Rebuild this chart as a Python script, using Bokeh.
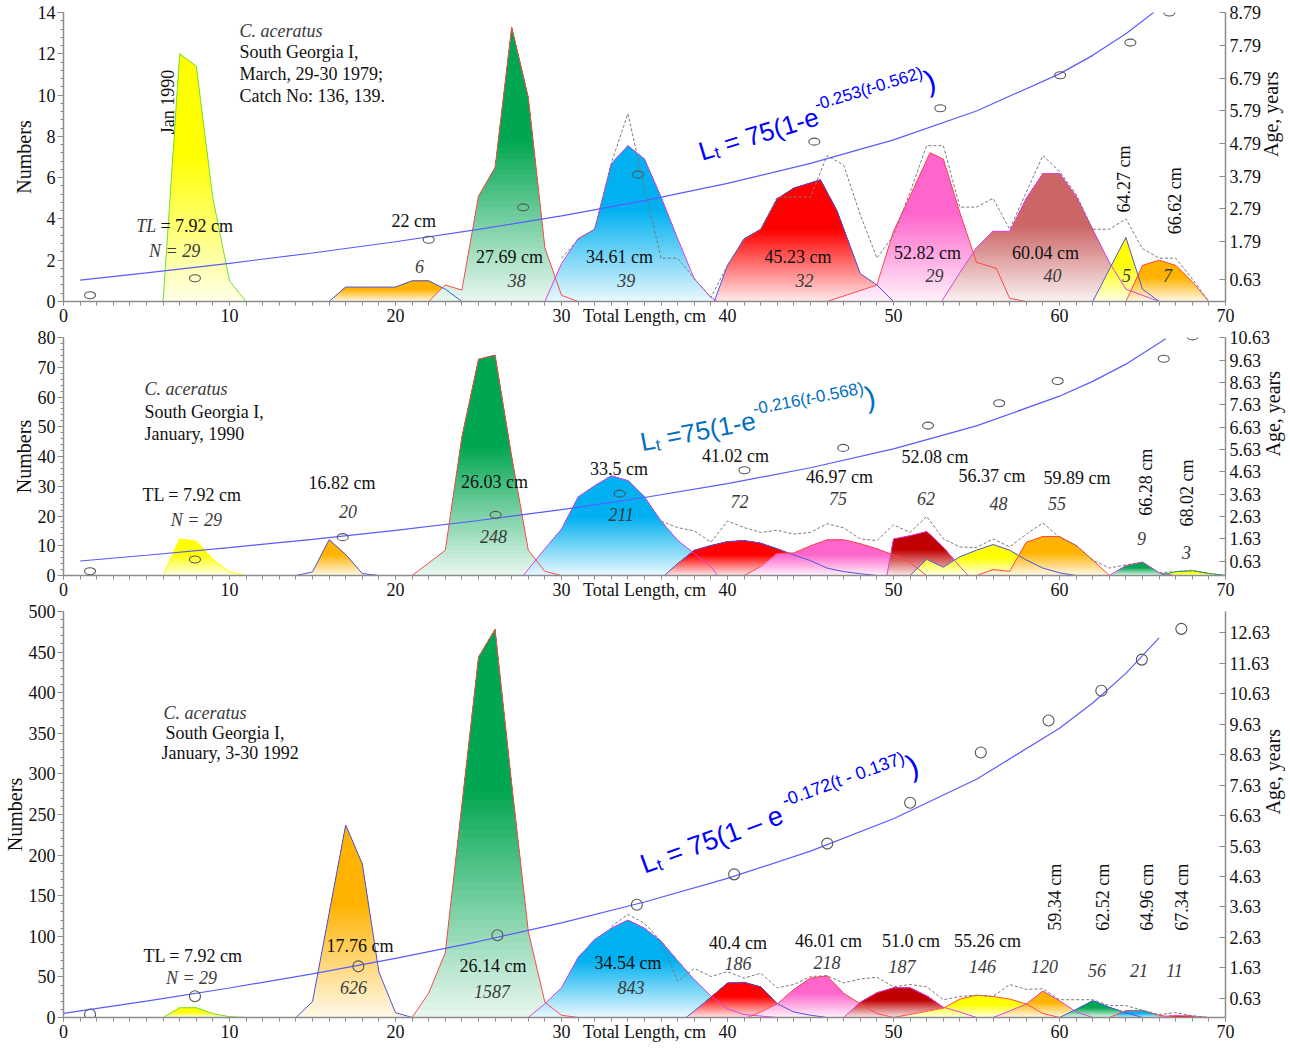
import math
from bokeh.plotting import figure
from bokeh.models import (Range1d, LinearAxis, FixedTicker, SingleIntervalTicker,
                          Label, ColumnDataSource)
from bokeh.layouts import column
from bokeh.embed import file_html
from bokeh.resources import INLINE
from bokeh.core.properties import value

# ============================ DATA ============================
X_MAJOR_TICKS = [0, 10, 20, 30, 40, 50, 60, 70]
X_TITLE = "Total Length, cm"
X_TITLE_AT = 35

# ---------- Panel 1: South Georgia I, March 29-30 1979 ----------
P1_COHORT_LEN = [
    [6, 7, 8, 9, 10, 11],
    [16, 17, 18, 19, 20, 21, 22, 23, 24],
    [22, 23, 24, 25, 26, 27, 28, 29, 30, 31],
    [29, 30, 31, 32, 33, 34, 35, 36, 37, 38, 39, 39.4],
    [39.2, 40, 41, 42, 43, 44, 45.6, 46.6, 48, 49, 50],
    [46, 49, 50, 51, 52.2, 53, 54, 55, 56.2, 57, 58],
    [52.9, 54, 55, 56, 57, 58, 59, 60, 61, 62, 63, 64, 65, 66],
    [62, 64, 65, 66],
    [64, 65, 66, 67, 68, 69],
]
P1_COHORT_NUM = [
    [0, 12.0, 11.4, 5.0, 1.0, 0],
    [0, 0.7, 0.7, 0.7, 0.7, 1.0, 1.0, 0.6, 0],
    [0, 0.8, 0.55, 5.1, 6.5, 13.3, 9.9, 2.6, 0.3, 0],
    [0, 1.84, 3.04, 3.5, 6.67, 7.55, 6.9, 5.06, 3.04, 1.1, 0.2, 0],
    [0, 1.75, 3.04, 3.5, 4.98, 5.5, 5.9, 4.4, 1.35, 0.8, 0],
    [0, 0.8, 3.4, 5.1, 7.2, 6.9, 4.3, 1.9, 1.6, 0.15, 0],
    [0, 1.4, 2.6, 3.4, 3.4, 5.0, 6.2, 6.2, 5.1, 3.5, 1.9, 0.6, 0.3, 0],
    [0, 3.1, 0.6, 0],
    [0, 1.75, 2.0, 1.75, 0.95, 0],
]
P1_TOTAL_LEN = [30, 31, 32, 33, 34, 35, 36, 37, 38, 39, 40, 41, 42, 43, 44, 45, 46, 47, 48,
                49, 50, 51, 52, 53, 54, 55, 56, 57, 58, 59, 60, 61, 62, 63, 64, 65, 66, 67, 68, 69]
P1_TOTAL_NUM = [2.1, 3.0, 3.5, 6.7, 9.1, 5.5, 2.1, 2.1, 1.1, 0.2, 1.75, 3.0, 3.5, 5.06, 5.06, 5.06,
                7.07, 6.6, 4.2, 2.1, 3.2, 5.3, 7.55, 7.55, 4.57, 4.57, 5.0, 3.5, 5.3, 7.07, 6.3,
                5.2, 3.5, 3.5, 4.0, 2.56, 2.1, 2.1, 1.1, 0]
P1_AGE_LEN = [1.6, 7.92, 22.0, 27.69, 34.61, 45.23, 52.82, 60.04, 64.27, 66.62]
P1_AGE = [0.15, 0.67, 1.85, 2.84, 3.84, 4.85, 5.87, 6.88, 7.88, 8.8]
P1_CURVE_LEN = [1, 5, 10, 15, 20, 25, 30, 35, 40, 45, 50, 55, 60, 62, 64, 65.7]
P1_CURVE_AGE = [0.615, 0.835, 1.128, 1.444, 1.788, 2.165, 2.581, 3.047, 3.574, 4.184,
                4.904, 5.786, 6.923, 7.489, 8.149, 8.813]
P1_AGE_TICKS = [0.63, 1.79, 2.79, 3.79, 4.79, 5.79, 6.79, 7.79, 8.79]

# ---------- Panel 2: South Georgia I, January 1990 ----------
P2_COHORT_LEN = [
    [6, 7, 8, 9, 10, 11],
    [14, 15, 16, 17, 18, 19],
    [21, 22, 23, 24, 25, 26, 27, 28, 29, 30],
    [27.7, 29, 30, 31, 32, 33, 34, 35, 36, 37, 38, 39, 39.4],
    [36.2, 37, 38, 39, 40, 41, 42, 43, 44, 45, 46, 47, 48, 49],
    [41, 42, 43, 44, 45, 46, 47, 48, 49, 50, 51, 52],
    [49.6, 50, 51, 52, 53, 54, 54.5],
    [51, 52, 53, 54, 55, 56, 57, 58, 59, 60, 61],
    [55, 56, 57, 58, 59, 60, 61, 62, 63],
    [63, 64, 65, 66, 66.9],
    [66, 67, 68, 69, 70],
]
P2_COHORT_NUM = [
    [0, 12.3, 11.5, 5.4, 1.2, 0],
    [0, 1.2, 12.0, 7.1, 0.65, 0],
    [0, 4.2, 8.5, 46.6, 72.7, 74.1, 40, 8.5, 1.4, 0],
    [0, 9, 15.6, 26.4, 30.2, 33.5, 31.9, 26.4, 18.3, 11.8, 7.4, 3.0, 0],
    [0, 4, 8.5, 10.1, 11.4, 11.75, 10.9, 9.0, 6.9, 5.0, 2.5, 1.3, 0.6, 0],
    [0, 3, 7.4, 7.6, 10, 12, 12, 10.7, 9, 6.9, 4.3, 0],
    [0, 12.3, 13.4, 14.8, 9.5, 3, 0],
    [0, 5.4, 2.8, 6.3, 8.5, 10.4, 8.5, 5.2, 2.5, 0.9, 0],
    [0, 2, 1.4, 11.2, 13.1, 13.1, 10.1, 5.2, 0],
    [0, 3.3, 4.5, 0.9, 0],
    [0, 1.3, 1.6, 0.7, 0],
]
P2_TOTAL_LEN = [36, 37, 38, 39, 40, 41, 42, 43, 44, 45, 46, 47, 48, 49, 50, 51, 52, 53, 54,
                55, 56, 57, 58, 59, 60, 61, 62, 63, 64, 65, 66, 67, 68, 69, 70]
P2_TOTAL_NUM = [18.3, 16.1, 15.0, 11.2, 18.3, 16.1, 14.5, 15.2, 13.9, 14.5, 17.4, 16.0, 12.3,
                11.75, 17.0, 14.5, 19.9, 12.3, 9.6, 9.4, 12.3, 9.6, 13.9, 17.7, 12.8, 10.1, 5.2,
                2.5, 3.6, 4.5, 0.9, 1.3, 1.7, 0.7, 0]
P2_AGE_LEN = [1.6, 7.92, 16.82, 26.03, 33.5, 41.02, 46.97, 52.08, 56.37, 59.89, 66.28, 68.02]
P2_AGE = [0.17, 0.7, 1.7, 2.7, 3.65, 4.7, 5.7, 6.7, 7.7, 8.7, 9.7, 10.7]
P2_CURVE_LEN = [1, 5, 10, 15, 20, 25, 30, 35, 40, 45, 50, 55, 60, 62, 64, 66.4]
P2_CURVE_AGE = [0.630, 0.887, 1.231, 1.601, 2.004, 2.445, 2.933, 3.478, 4.096, 4.810,
                5.654, 6.687, 8.019, 8.682, 9.455, 10.595]
P2_AGE_TICKS = [0.63, 1.63, 2.63, 3.63, 4.63, 5.63, 6.63, 7.63, 8.63, 9.63, 10.63]

# ---------- Panel 3: South Georgia I, January 3-30 1992 ----------
P3_COHORT_LEN = [
    [6, 7, 8, 9, 10, 11],
    [14, 15, 16, 17, 18, 19, 20, 21],
    [21, 22, 23, 24, 25, 26, 27, 28, 29, 30, 31],
    [28, 29, 30, 31, 32, 33, 34, 35, 36, 37, 38, 39, 40, 41, 43],
    [37.5, 38, 39, 40, 41, 42, 43, 44, 45, 46],
    [41.2, 42, 43, 44, 45, 46, 47, 48, 49, 50],
    [47, 48, 49, 50, 51, 52, 53, 54, 55],
    [50, 53, 54, 55, 56, 57, 58, 59, 60],
    [56, 57, 58, 59, 60, 61, 62],
    [60, 61, 62, 63, 64, 65],
    [63, 64, 65, 66, 67],
    [65.8, 67, 68, 69],
]
P3_COHORT_NUM = [
    [0, 12, 12, 4.8, 1, 0],
    [0, 19.5, 128, 237, 189, 56, 6, 0],
    [0, 30, 80, 262, 444, 478, 288, 106, 18.7, 2.8, 0],
    [0, 17, 36.6, 74, 96, 110, 120, 110, 94, 70, 46.5, 26.6, 10.7, 3.6, 0],
    [0, 8, 25, 42.6, 43.4, 37.8, 17, 6.8, 2.8, 0],
    [0, 6.8, 16.7, 34.6, 48.5, 51.3, 29.6, 17, 5, 0],
    [0, 18.7, 30.6, 36.6, 36.6, 26.7, 12.7, 6.8, 0],
    [0, 11.5, 22.7, 27.4, 25.9, 22.7, 16.7, 5, 0],
    [0, 8, 16.7, 32.6, 20.7, 6.8, 0],
    [0, 10, 20.7, 12.7, 6, 0],
    [0, 8.5, 8.8, 2.8, 0],
    [0, 2.8, 2, 0],
]
P3_TOTAL_LEN = [33, 34, 35, 36, 37, 38, 39, 40, 41, 42, 43, 44, 45, 46, 47, 48, 49, 50, 51, 52,
                53, 54, 55, 56, 57, 58, 59, 60, 61, 62, 63, 64, 65, 66, 67, 68, 69]
P3_TOTAL_NUM = [112, 127, 116, 94, 44.5, 60.5, 50.5, 56.5, 48.5, 54.5, 36.6, 40.6, 50.5, 51.3,
                42.6, 47.3, 49.7, 37.8, 40.6, 37.8, 21.9, 25.9, 27.4, 25.9, 40.6, 34.6, 35.4,
                21.9, 21.9, 21.9, 14.7, 14.7, 8.8, 3.6, 6, 2, 0]
P3_AGE_LEN = [1.6, 7.92, 17.76, 26.14, 34.54, 40.4, 46.01, 51.0, 55.26, 59.34, 62.52, 64.96, 67.34]
P3_AGE = [0.1, 0.7, 1.68, 2.7, 3.7, 4.7, 5.71, 7.05, 8.7, 9.75, 10.73, 11.75, 12.76]
P3_CURVE_LEN = [0, 5, 10, 15, 20, 25, 30, 35, 40, 45, 50, 55, 60, 62, 64, 66]
P3_CURVE_AGE = [0.137, 0.538, 0.969, 1.434, 1.940, 2.494, 3.107, 3.792, 4.568, 5.464,
                6.524, 7.822, 9.494, 10.326, 11.297, 12.464]
P3_AGE_TICKS = [0.63, 1.63, 2.63, 3.63, 4.63, 5.63, 6.63, 7.63, 8.63, 9.63, 10.63, 11.63, 12.63]

# ============================ STYLE ============================
SERIF = "Liberation Serif"
SANS = "Liberation Sans"
YEL, ORG, GRN, BLU = "#FFFF00", "#FFB300", "#00A651", "#00B0F0"
RED, PNK, BRN, DRD = "#FF0000", "#FF66CC", "#CC6666", "#C00000"
E_GRN, E_BLU, E_RED, E_MAG = "#70DD3A", "#4A55E0", "#FF4A4A", "#E040E0"

P1_FILL = [YEL, ORG, GRN, BLU, RED, PNK, BRN, YEL, ORG]
P1_EDGE = [E_GRN, E_BLU, E_RED, E_MAG, E_BLU, E_RED, E_MAG, E_BLU, E_RED]
P2_FILL = [YEL, ORG, GRN, BLU, RED, PNK, DRD, YEL, ORG, GRN, YEL]
P2_EDGE = [YEL, E_BLU, E_RED, E_MAG, E_BLU, E_RED, E_MAG, E_BLU, E_RED, E_MAG, GRN]
P3_FILL = [YEL, ORG, GRN, BLU, RED, PNK, DRD, YEL, ORG, GRN, BLU, RED]
P3_EDGE = [E_GRN, E_BLU, E_RED, E_MAG, E_BLU, E_RED, E_MAG, E_RED, E_MAG, E_BLU, E_RED, PNK]

# text annotations: (text, x, y, style, align, angle in degrees)
P1_TEXT = [
    ("C. aceratus", 10.6, 13.1, "italic", "left", 0),
    ("South Georgia I,", 10.6, 12.07, "normal", "left", 0),
    ("March, 29-30 1979;", 10.6, 11.0, "normal", "left", 0),
    ("Catch No: 136, 139.", 10.6, 9.95, "normal", "left", 0),
    ("Jan 1990", 6.27, 9.66, "normal", "center", 90),
    ("TL", 4.38, 3.67, "italic", "left", 0),
    ("= 7.92 cm", 5.84, 3.67, "normal", "left", 0),
    ("N = 29", 6.69, 2.46, "italic", "center", 0),
    ("22 cm", 21.1, 3.91, "normal", "center", 0),
    ("6", 21.45, 1.69, "italic", "center", 0),
    ("27.69 cm", 26.87, 2.17, "normal", "center", 0),
    ("38", 27.3, 1.01, "italic", "center", 0),
    ("34.61 cm", 33.5, 2.17, "normal", "center", 0),
    ("39", 33.9, 1.01, "italic", "center", 0),
    ("45.23 cm", 44.25, 2.17, "normal", "center", 0),
    ("32", 44.64, 1.01, "italic", "center", 0),
    ("52.82 cm", 52.05, 2.37, "normal", "center", 0),
    ("29", 52.47, 1.26, "italic", "center", 0),
    ("60.04 cm", 59.16, 2.37, "normal", "center", 0),
    ("40", 59.58, 1.26, "italic", "center", 0),
    ("64.27 cm", 63.86, 5.94, "normal", "center", 90),
    ("66.62 cm", 66.93, 4.88, "normal", "center", 90),
    ("5", 64.04, 1.26, "italic", "center", 0),
    ("7", 66.5, 1.26, "italic", "center", 0),
]
P2_TEXT = [
    ("C. aceratus", 4.88, 62.7, "italic", "left", 0),
    ("South Georgia I,", 4.88, 54.9, "normal", "left", 0),
    ("January, 1990", 4.88, 47.7, "normal", "left", 0),
    ("TL = 7.92 cm", 7.74, 27.1, "normal", "center", 0),
    ("N = 29", 8.0, 18.6, "italic", "center", 0),
    ("16.82 cm", 16.78, 31.0, "normal", "center", 0),
    ("20", 17.14, 21.5, "italic", "center", 0),
    ("26.03 cm", 25.96, 31.35, "normal", "center", 0),
    ("248", 25.9, 13.06, "italic", "center", 0),
    ("33.5 cm", 33.46, 35.9, "normal", "center", 0),
    ("211", 33.6, 20.6, "italic", "center", 0),
    ("41.02 cm", 40.48, 40.2, "normal", "center", 0),
    ("72", 40.72, 24.8, "italic", "center", 0),
    ("46.97 cm", 46.75, 33.0, "normal", "center", 0),
    ("75", 46.66, 25.8, "italic", "center", 0),
    ("52.08 cm", 52.5, 39.8, "normal", "center", 0),
    ("62", 51.96, 25.8, "italic", "center", 0),
    ("56.37 cm", 55.93, 33.3, "normal", "center", 0),
    ("48", 56.33, 24.2, "italic", "center", 0),
    ("59.89 cm", 61.05, 32.65, "normal", "center", 0),
    ("55", 59.85, 24.2, "italic", "center", 0),
    ("66.28 cm", 65.24, 31.35, "normal", "center", 90),
    ("9", 64.94, 12.4, "italic", "center", 0),
    ("68.02 cm", 67.71, 27.75, "normal", "center", 90),
    ("3", 67.65, 7.84, "italic", "center", 0),
]
P3_TEXT = [
    ("C. aceratus", 6.02, 374.7, "italic", "left", 0),
    ("South Georgia I,", 6.14, 350.8, "normal", "left", 0),
    ("January, 3-30 1992", 5.9, 325.8, "normal", "left", 0),
    ("TL = 7.92 cm", 7.8, 75.2, "normal", "center", 0),
    ("N = 29", 7.71, 48.9, "italic", "center", 0),
    ("17.76 cm", 17.86, 88.3, "normal", "center", 0),
    ("626", 17.47, 37.0, "italic", "center", 0),
    ("26.14 cm", 25.87, 63.2, "normal", "center", 0),
    ("1587", 25.81, 32.2, "italic", "center", 0),
    ("34.54 cm", 34.0, 66.8, "normal", "center", 0),
    ("843", 34.19, 37.0, "italic", "center", 0),
    ("40.4 cm", 40.63, 91.9, "normal", "center", 0),
    ("186", 40.63, 66.8, "italic", "center", 0),
    ("46.01 cm", 46.08, 94.3, "normal", "center", 0),
    ("218", 46.0, 68.0, "italic", "center", 0),
    ("51.0 cm", 51.05, 94.3, "normal", "center", 0),
    ("187", 50.51, 63.2, "italic", "center", 0),
    ("55.26 cm", 55.66, 94.3, "normal", "center", 0),
    ("146", 55.36, 63.2, "italic", "center", 0),
    ("120", 59.1, 63.2, "italic", "center", 0),
    ("56", 62.26, 57.3, "italic", "center", 0),
    ("21", 64.79, 57.3, "italic", "center", 0),
    ("11", 66.93, 57.3, "italic", "center", 0),
    ("59.34 cm", 59.7, 148, "normal", "center", 90),
    ("62.52 cm", 62.65, 148, "normal", "center", 90),
    ("64.96 cm", 65.3, 148, "normal", "center", 90),
    ("67.34 cm", 67.35, 148, "normal", "center", 90),
]

# formula pieces: (text, size px, baseline shift px, style)
P1_FORMULA = [("L", 26, 0, "normal"), ("t", 17, -6, "normal"), (" = 75(1-e", 26, 0, "normal"),
              ("-0.253(", 17, 11, "normal"), ("t", 17, 11, "italic"), ("-0.562)", 17, 11, "normal"),
              (")", 30, 1, "normal")]
P2_FORMULA = [("L", 26, 0, "normal"), ("t", 17, -6, "normal"), (" =75(1-e", 26, 0, "normal"),
              ("-0.216(", 17, 11, "normal"), ("t", 17, 11, "italic"), ("-0.568)", 17, 11, "normal"),
              (")", 30, 1, "normal")]
P3_FORMULA = [("L", 27, 0, "normal"), ("t", 17, -6, "normal"), (" = 75(1 \u2013 e", 27, 0, "normal"),
              (" -0.172(", 18, 12, "normal"), ("t", 18, 12, "normal"), (" - 0.137)", 18, 12, "normal"),
              (")", 31, 1, "normal")]

ARIAL_W = {' ': 278, '=': 584, '(': 333, ')': 333, '-': 333, '.': 278, 't': 278,
           'L': 556, 'e': 556, '\u2013': 556}


def text_width(s, size):
    return sum(ARIAL_W.get(c, 556) for c in s) * size / 1000.0


def mix(hexc, m):
    r, g, b = int(hexc[1:3], 16), int(hexc[3:5], 16), int(hexc[5:7], 16)
    r = round(r + (255 - r) * m)
    g = round(g + (255 - g) * m)
    b = round(b + (255 - b) * m)
    return "#%02x%02x%02x" % (r, g, b)


def clip_above(poly, y0):
    out = []
    n = len(poly)
    for i in range(n):
        cx, cy = poly[i]
        px, py = poly[i - 1]
        cin, pin = cy >= y0, py >= y0
        if cin:
            if not pin:
                t = (y0 - py) / (cy - py)
                out.append((px + t * (cx - px), y0))
            out.append((cx, cy))
        elif pin:
            t = (y0 - py) / (cy - py)
            out.append((px + t * (cx - px), y0))
    return out


def gradient_layers(xs, ys, color, n=30, top=0.58, fade=0.9):
    poly = list(zip(xs, ys))
    if ys[0] != 0:
        poly.insert(0, (xs[0], 0))
    if ys[-1] != 0:
        poly.append((xs[-1], 0))
    peak = max(ys)
    lx, ly, lc = [], [], []
    for k in range(n + 1):
        part = poly if k == 0 else clip_above(poly, peak * top * k / n)
        if len(part) < 3:
            continue
        lx.append([q[0] for q in part])
        ly.append([q[1] for q in part])
        lc.append(mix(color, fade * (1 - k / n)))
    return lx, ly, lc


def style_axis(ax, tin, tout, min_in, min_out):
    ax.axis_line_color = "#8c8c8c"
    ax.axis_line_width = 1.5
    ax.major_tick_line_color = "#8c8c8c"
    ax.minor_tick_line_color = "#8c8c8c"
    ax.major_tick_in = tin
    ax.major_tick_out = tout
    ax.minor_tick_in = min_in
    ax.minor_tick_out = min_out
    ax.major_label_text_font = SERIF
    ax.major_label_text_font_size = "18px"
    ax.major_label_text_color = "#111111"
    ax.major_label_standoff = 2
    ax.axis_label_text_font = SERIF
    ax.axis_label_text_font_size = "20px"
    ax.axis_label_text_font_style = "normal"
    ax.axis_label_text_color = "#111111"
    ax.axis_label_standoff = 0


def build(frame_h, b_top, b_bottom, y_max, y_step, age_range, age_ticks, age_title_gap,
          c_len, c_num, fills, edges, t_len, t_num, a_len, a_val, cv_len, cv_age,
          ell_h, texts, formula, f_xy, f_angle, f_color):
    p = figure(frame_width=1162, frame_height=frame_h,
               x_range=Range1d(0, 70), y_range=Range1d(0, y_max),
               output_backend="svg", toolbar_location=None,
               min_border_left=59, min_border_right=68,
               min_border_top=b_top, min_border_bottom=b_bottom)
    p.outline_line_color = None
    p.xgrid.visible = False
    p.ygrid.visible = False
    p.background_fill_color = "white"
    p.border_fill_color = "white"
    p.extra_y_ranges = {"age": Range1d(*age_range)}

    # x axis: the axis title sits on the tick-label line, as in the original
    xa = p.xaxis[0]
    xa.ticker = FixedTicker(ticks=X_MAJOR_TICKS + [X_TITLE_AT], minor_ticks=list(range(0, 71)))
    style_axis(xa, 0, 4, 0, 4)
    xa.major_label_standoff = 0
    xa.major_label_overrides = {X_TITLE_AT: X_TITLE}

    ya = p.yaxis[0]
    ya.ticker = SingleIntervalTicker(interval=y_step, num_minor_ticks=5)
    style_axis(ya, 0, 6, 0, 3)
    ya.axis_label = "Numbers"

    ra = LinearAxis(y_range_name="age", ticker=FixedTicker(ticks=age_ticks, minor_ticks=[]))
    ra.major_label_overrides = {t: "%.2f" % t for t in age_ticks}
    style_axis(ra, 6, 0, 0, 0)
    ra.major_label_standoff = 4
    ra.axis_label = "Age, years"
    ra.axis_label_orientation = math.pi / 2
    ra.axis_label_standoff = age_title_gap
    p.add_layout(ra, "right")

    # gradient-filled cohort components
    allx, ally, allc = [], [], []
    for xs, ys, col in zip(c_len, c_num, fills):
        lx, ly, lc = gradient_layers(xs, ys, col)
        allx += lx
        ally += ly
        allc += lc
    p.patches(xs=allx, ys=ally, fill_color=allc, line_color=None)
    p.multi_line(xs=c_len, ys=c_num, line_color=edges, line_width=1)

    # observed total (dotted)
    p.line(t_len, t_num, line_color="#7a7a7a", line_dash="3 2", line_width=1)

    # growth curve and ages
    p.line(cv_len, cv_age, y_range_name="age", line_color="#5b5bff", line_width=1.2)
    p.ellipse(x=a_len, y=a_val, width=11, height=ell_h, width_units="screen",
              height_units="screen", fill_color=None, line_color="#555555",
              line_width=1.1, y_range_name="age")

    # text annotations
    groups = {}
    for (t, x, y, st, al, ang) in texts:
        groups.setdefault((st, al), []).append((t, x, y, math.radians(ang)))
    for (st, al), items in groups.items():
        src = ColumnDataSource(dict(text=[i[0] for i in items], x=[i[1] for i in items],
                                    y=[i[2] for i in items], angle=[i[3] for i in items]))
        p.text(x="x", y="y", text="text", angle="angle", source=src,
               text_font=value(SERIF), text_font_size="18px", text_font_style=st,
               text_align=al, text_baseline="middle",
               text_color="#3a3a3a" if st == "italic" else "#111111")

    # rotated growth formula (leading spaces are advanced, not drawn: SVG strips them)
    a = math.radians(f_angle)
    d = 0.0
    for (t, size, shift, st) in formula:
        lead = len(t) - len(t.lstrip(" "))
        d += text_width(" " * lead, size)
        body = t.lstrip(" ")
        ox = d * math.cos(a) - shift * math.sin(a)
        oy = d * math.sin(a) + shift * math.cos(a)
        p.add_layout(Label(x=f_xy[0], y=f_xy[1], x_offset=ox, y_offset=oy, angle=a, text=body,
                           text_font=SANS, text_font_size="%dpx" % size, text_font_style=st,
                           text_color=f_color, text_align="left", text_baseline="alphabetic"))
        d += text_width(body, size)
    return p


p1 = build(289, 12, 25, 14, 2, (-0.04, 8.80), P1_AGE_TICKS, 7,
           P1_COHORT_LEN, P1_COHORT_NUM, P1_FILL, P1_EDGE, P1_TOTAL_LEN, P1_TOTAL_NUM,
           P1_AGE_LEN, P1_AGE, P1_CURVE_LEN, P1_CURVE_AGE, 7, P1_TEXT,
           P1_FORMULA, (38.31, 7.24), 17, "#0000FF")
p2 = build(238, 9, 25, 80, 10, (-0.02, 10.65), P2_AGE_TICKS, 0,
           P2_COHORT_LEN, P2_COHORT_NUM, P2_FILL, P2_EDGE, P2_TOTAL_LEN, P2_TOTAL_NUM,
           P2_AGE_LEN, P2_AGE, P2_CURVE_LEN, P2_CURVE_AGE, 7, P2_TEXT,
           P2_FORMULA, (34.76, 44.7), 11, "#0070C0")
p3 = build(406, 9, 38, 500, 50, (0, 13.33), P3_AGE_TICKS, 0,
           P3_COHORT_LEN, P3_COHORT_NUM, P3_FILL, P3_EDGE, P3_TOTAL_LEN, P3_TOTAL_NUM,
           P3_AGE_LEN, P3_AGE, P3_CURVE_LEN, P3_CURVE_AGE, 11, P3_TEXT,
           P3_FORMULA, (34.82, 187.4), 20, "#0000FF")

layout = column(p1, p2, p3, spacing=0)
open("out.html", "w").write(file_html(layout, INLINE))
